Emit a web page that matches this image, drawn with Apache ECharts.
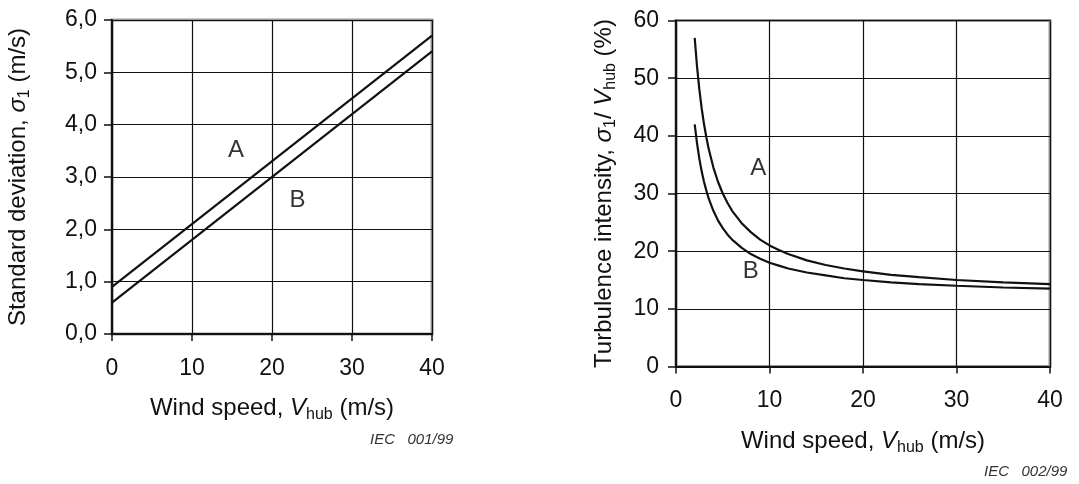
<!DOCTYPE html>
<html>
<head>
<meta charset="utf-8">
<script src="https://cdn.jsdelivr.net/npm/echarts@6/dist/echarts.min.js"></script>
<style>
  html, body { margin: 0; padding: 0; background: #fff; }
  #chart { width: 1079px; height: 484px; }
</style>
</head>
<body>
<div id="chart"></div>
<script>
// ---- Left chart: standard deviation vs wind speed ----
const leftWind = [0, 40];
const leftSigmaA = [0.9, 5.7];
const leftSigmaB = [0.6, 5.4];
const leftYTicks = ['0,0', '1,0', '2,0', '3,0', '4,0', '5,0', '6,0'];
const leftLabelA = [15.5, 3.5];
const leftLabelB = [23.2, 2.55];

// ---- Right chart: turbulence intensity vs wind speed ----
const rightWind = [2, 2.25, 2.5, 2.75, 3, 3.25, 3.5, 4, 4.5, 5, 5.5, 6, 7, 8, 9, 10, 11, 12, 14, 16, 18, 20, 23, 26, 30, 35, 40];
const rightTIA = [57, 52, 48, 44.7, 42, 39.7, 37.7, 34.5, 32, 30, 28.4, 27, 24.9, 23.3, 22, 21, 20.2, 19.5, 18.4, 17.6, 17, 16.5, 15.9, 15.5, 15, 14.6, 14.3];
const rightTIB = [42, 38.7, 36, 33.8, 32, 30.5, 29.1, 27, 25.3, 24, 22.9, 22, 20.6, 19.5, 18.7, 18, 17.5, 17, 16.3, 15.8, 15.3, 15, 14.6, 14.3, 14, 13.7, 13.5];
const rightLabelA = [8.8, 34.3];
const rightLabelB = [8.0, 16.5];

const FONT = "'Liberation Sans', Arial, sans-serif";
const black = '#111';

function pairs(xs, ys) { return xs.map((x, i) => [x, ys[i]]); }

const tickFont = { fontFamily: FONT, fontSize: 23, color: black };
const titleRich = {
  n: { fontFamily: FONT, fontSize: 24, color: black },
  i: { fontFamily: FONT, fontSize: 24, color: black, fontStyle: 'italic' },
  s: { fontFamily: FONT, fontSize: 16, color: black, padding: [13, 0, 0, 0] }
};

function xAxisCfg(gridIndex) {
  return {
    gridIndex, type: 'value', min: 0, max: 40, interval: 10,
    name: '{n|Wind speed, }{i|V}{s|hub}{n| (m/s)}',
    nameLocation: 'middle', nameGap: 60,
    nameTextStyle: { rich: titleRich },
    axisLine: { show: true, onZero: false, lineStyle: { color: black, width: 2 } },
    axisTick: { show: true, length: 7, lineStyle: { color: black, width: 1.5 } },
    axisLabel: Object.assign({ margin: 23 }, tickFont),
    splitLine: { show: true, lineStyle: { color: black, width: 1.2 } },
    z: 6
  };
}

const labelSeries = (xAxisIndex, yAxisIndex, pt, text) => ({
  type: 'scatter', xAxisIndex, yAxisIndex, symbolSize: 0.1, silent: true,
  data: [pt],
  label: { show: true, position: 'inside', formatter: text, fontFamily: FONT, fontSize: 24, color: '#000' },
  itemStyle: { color: 'rgba(0,0,0,0)' }, z: 7
});

const lineSeries = (xAxisIndex, yAxisIndex, data) => ({
  type: 'line', xAxisIndex, yAxisIndex, data, showSymbol: false, symbol: 'none',
  smooth: false,
  lineStyle: { color: black, width: 2.2 }, silent: true, z: 7
});

const option = {
  animation: false,
  backgroundColor: '#fff',
  grid: [
    { left: 112, top: 20, width: 320, height: 314, show: true, borderColor: '#999', borderWidth: 3, backgroundColor: 'transparent', z: 5 },
    { left: 676, top: 20.5, width: 374, height: 346, show: true, borderColor: '#999', borderWidth: 3, backgroundColor: 'transparent', z: 5 }
  ],
  xAxis: [xAxisCfg(0), xAxisCfg(1)],
  yAxis: [
    {
      gridIndex: 0, type: 'value', min: 0, max: 6, interval: 1,
      name: '{n|Standard deviation, }{i|σ}{s|1}{n| (m/s)}',
      nameLocation: 'middle', nameGap: 79, nameRotate: 90,
      nameTextStyle: { rich: titleRich },
      axisLine: { show: true, onZero: false, lineStyle: { color: black, width: 2 } },
      axisTick: { show: true, length: 8, lineStyle: { color: black, width: 1.5 } },
      axisLabel: Object.assign({ margin: 15, formatter: (v) => leftYTicks[Math.round(v)] }, tickFont),
      splitLine: { show: true, lineStyle: { color: black, width: 1.2 } },
      z: 6
    },
    {
      gridIndex: 1, type: 'value', min: 0, max: 60, interval: 10,
      name: '{n|Turbulence intensity, }{i|σ}{s|1}{n|/ }{i|V}{s|hub}{n| (%)}',
      nameLocation: 'middle', nameGap: 57, nameRotate: 90,
      nameTextStyle: { rich: titleRich },
      axisLine: { show: true, onZero: false, lineStyle: { color: black, width: 2 } },
      axisTick: { show: true, length: 8, lineStyle: { color: black, width: 1.5 } },
      axisLabel: Object.assign({ margin: 17 }, tickFont),
      splitLine: { show: true, lineStyle: { color: black, width: 1.2 } },
      z: 6
    }
  ],
  series: [
    lineSeries(0, 0, pairs(leftWind, leftSigmaA)),
    lineSeries(0, 0, pairs(leftWind, leftSigmaB)),
    labelSeries(0, 0, leftLabelA, 'A'),
    labelSeries(0, 0, leftLabelB, 'B'),
    lineSeries(1, 1, pairs(rightWind, rightTIA)),
    lineSeries(1, 1, pairs(rightWind, rightTIB)),
    labelSeries(1, 1, rightLabelA, 'A'),
    labelSeries(1, 1, rightLabelB, 'B')
  ],
  graphic: [
    { type: 'text', left: 370, top: 432, style: { text: 'IEC   001/99', fontFamily: FONT, fontSize: 15, fontStyle: 'italic', fill: '#333' } },
    { type: 'text', left: 984, top: 464, style: { text: 'IEC   002/99', fontFamily: FONT, fontSize: 15, fontStyle: 'italic', fill: '#333' } }
  ]
};

const chart = echarts.init(document.getElementById('chart'), null, { renderer: 'canvas' });
chart.setOption(option);
</script>
</body>
</html>
